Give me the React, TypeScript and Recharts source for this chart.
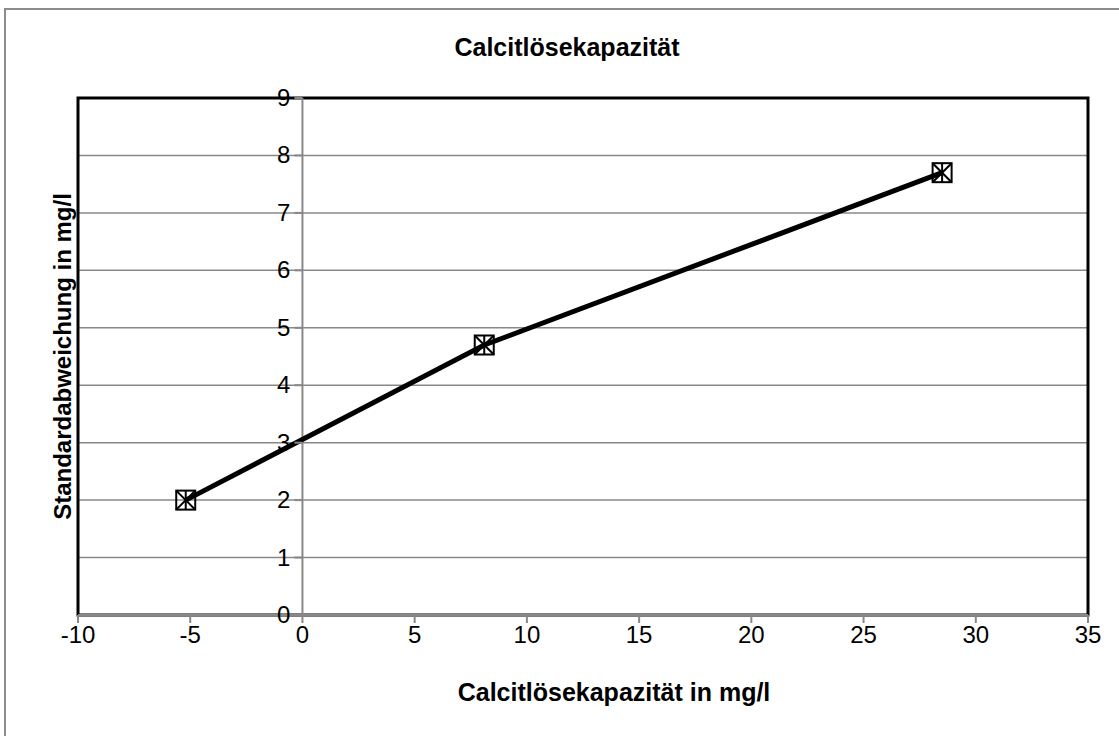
import { ScatterChart, Scatter, XAxis, YAxis, CartesianGrid, ReferenceLine, ReferenceArea } from 'recharts';

const calcitX = [-5.2, 8.1, 28.5];
const stdAbw = [2.0, 4.7, 7.7];
const xTicks = [-10, -5, 0, 5, 10, 15, 20, 25, 30, 35];
const yTicks = [0, 1, 2, 3, 4, 5, 6, 7, 8, 9];

const data = calcitX.map((x, i) => ({ x, y: stdAbw[i] }));

const W = 1119;
const H = 736;
const Y_AXIS_W = 32;
const X_AXIS_H = 40;
const margin = { top: 98, right: 31, left: 78 - Y_AXIS_W, bottom: 121 - X_AXIS_H };
const plotLeft = 78;
const xMin = -10;
const xMax = 35;
const plotW = W - plotLeft - margin.right;
// y axis sits on x = 0, not at the left edge
const zeroX = plotLeft + ((0 - xMin) / (xMax - xMin)) * plotW;

const FONT = '"Liberation Sans", Arial, sans-serif';
const GRID = '#888888';

const YTick = (props: any) => {
  const { y, payload } = props;
  return (
    <g>
      <line x1={zeroX - 8} x2={zeroX} y1={y} y2={y} stroke={GRID} strokeWidth={2} />
      <text x={zeroX - 12} y={y} dy={8} textAnchor="end" fontSize={24} fontFamily={FONT} fill="#000">
        {payload.value}
      </text>
    </g>
  );
};

const Marker = (props: any) => {
  const { cx, cy } = props;
  const s = 9.5;
  return (
    <g stroke="#000" strokeWidth={2} fill="none">
      <rect x={cx - s} y={cy - s} width={s * 2} height={s * 2} />
      <line x1={cx - s} y1={cy - s} x2={cx + s} y2={cy + s} />
      <line x1={cx - s} y1={cy + s} x2={cx + s} y2={cy - s} />
      <line x1={cx} y1={cy - s} x2={cx} y2={cy + s} />
    </g>
  );
};

const App = () => {
  return (
    <div style={{ position: 'absolute', left: 0, top: 0, width: W, height: H, background: '#fff', overflow: 'hidden' }}>
      <div style={{ position: 'absolute', left: 4, top: 8, width: W + 20, height: H + 20, borderTop: '2px solid #8c8c8c', borderLeft: '2px solid #8c8c8c' }} />
      <div style={{ position: 'absolute', left: 0, top: 33, width: 1134, textAlign: 'center', fontFamily: FONT, fontWeight: 'bold', fontSize: 25, lineHeight: '28px' }}>
        Calcitlösekapazität
      </div>
      <div style={{ position: 'absolute', left: 0, top: 0 }}>
        <ScatterChart width={W} height={H} margin={margin}>
          <CartesianGrid horizontal vertical={false} stroke={GRID} strokeWidth={1.5} />
          <ReferenceArea x1={xMin} x2={xMax} y1={0} y2={9} fill="none" stroke="#000" strokeWidth={3} ifOverflow="visible" />
          <ReferenceLine x={0} stroke={GRID} strokeWidth={2} />
          <XAxis
            type="number"
            dataKey="x"
            domain={[xMin, xMax]}
            ticks={xTicks}
            height={X_AXIS_H}
            axisLine={{ stroke: GRID, strokeWidth: 2 }}
            tickLine={{ stroke: GRID, strokeWidth: 2 }}
            tickSize={8}
            tickMargin={3}
            tick={{ fontSize: 24, fontFamily: FONT, fill: '#000' }}
            label={{ value: 'Calcitlösekapazität in mg/l', position: 'bottom', offset: 28, dx: 31, fontSize: 25, fontWeight: 'bold', fontFamily: FONT, fill: '#000' }}
          />
          <YAxis
            type="number"
            dataKey="y"
            domain={[0, 9]}
            ticks={yTicks}
            width={Y_AXIS_W}
            axisLine={false}
            tickLine={false}
            tick={<YTick />}
            label={{ value: 'Standardabweichung in mg/l', angle: -90, position: 'center', fontSize: 24, fontWeight: 'bold', fontFamily: FONT, fill: '#000' }}
          />
          <Scatter
            data={data}
            line={{ stroke: '#000', strokeWidth: 5 }}
            lineType="joint"
            shape={<Marker />}
            isAnimationActive={false}
          />
        </ScatterChart>
      </div>
    </div>
  );
};

export default App;
